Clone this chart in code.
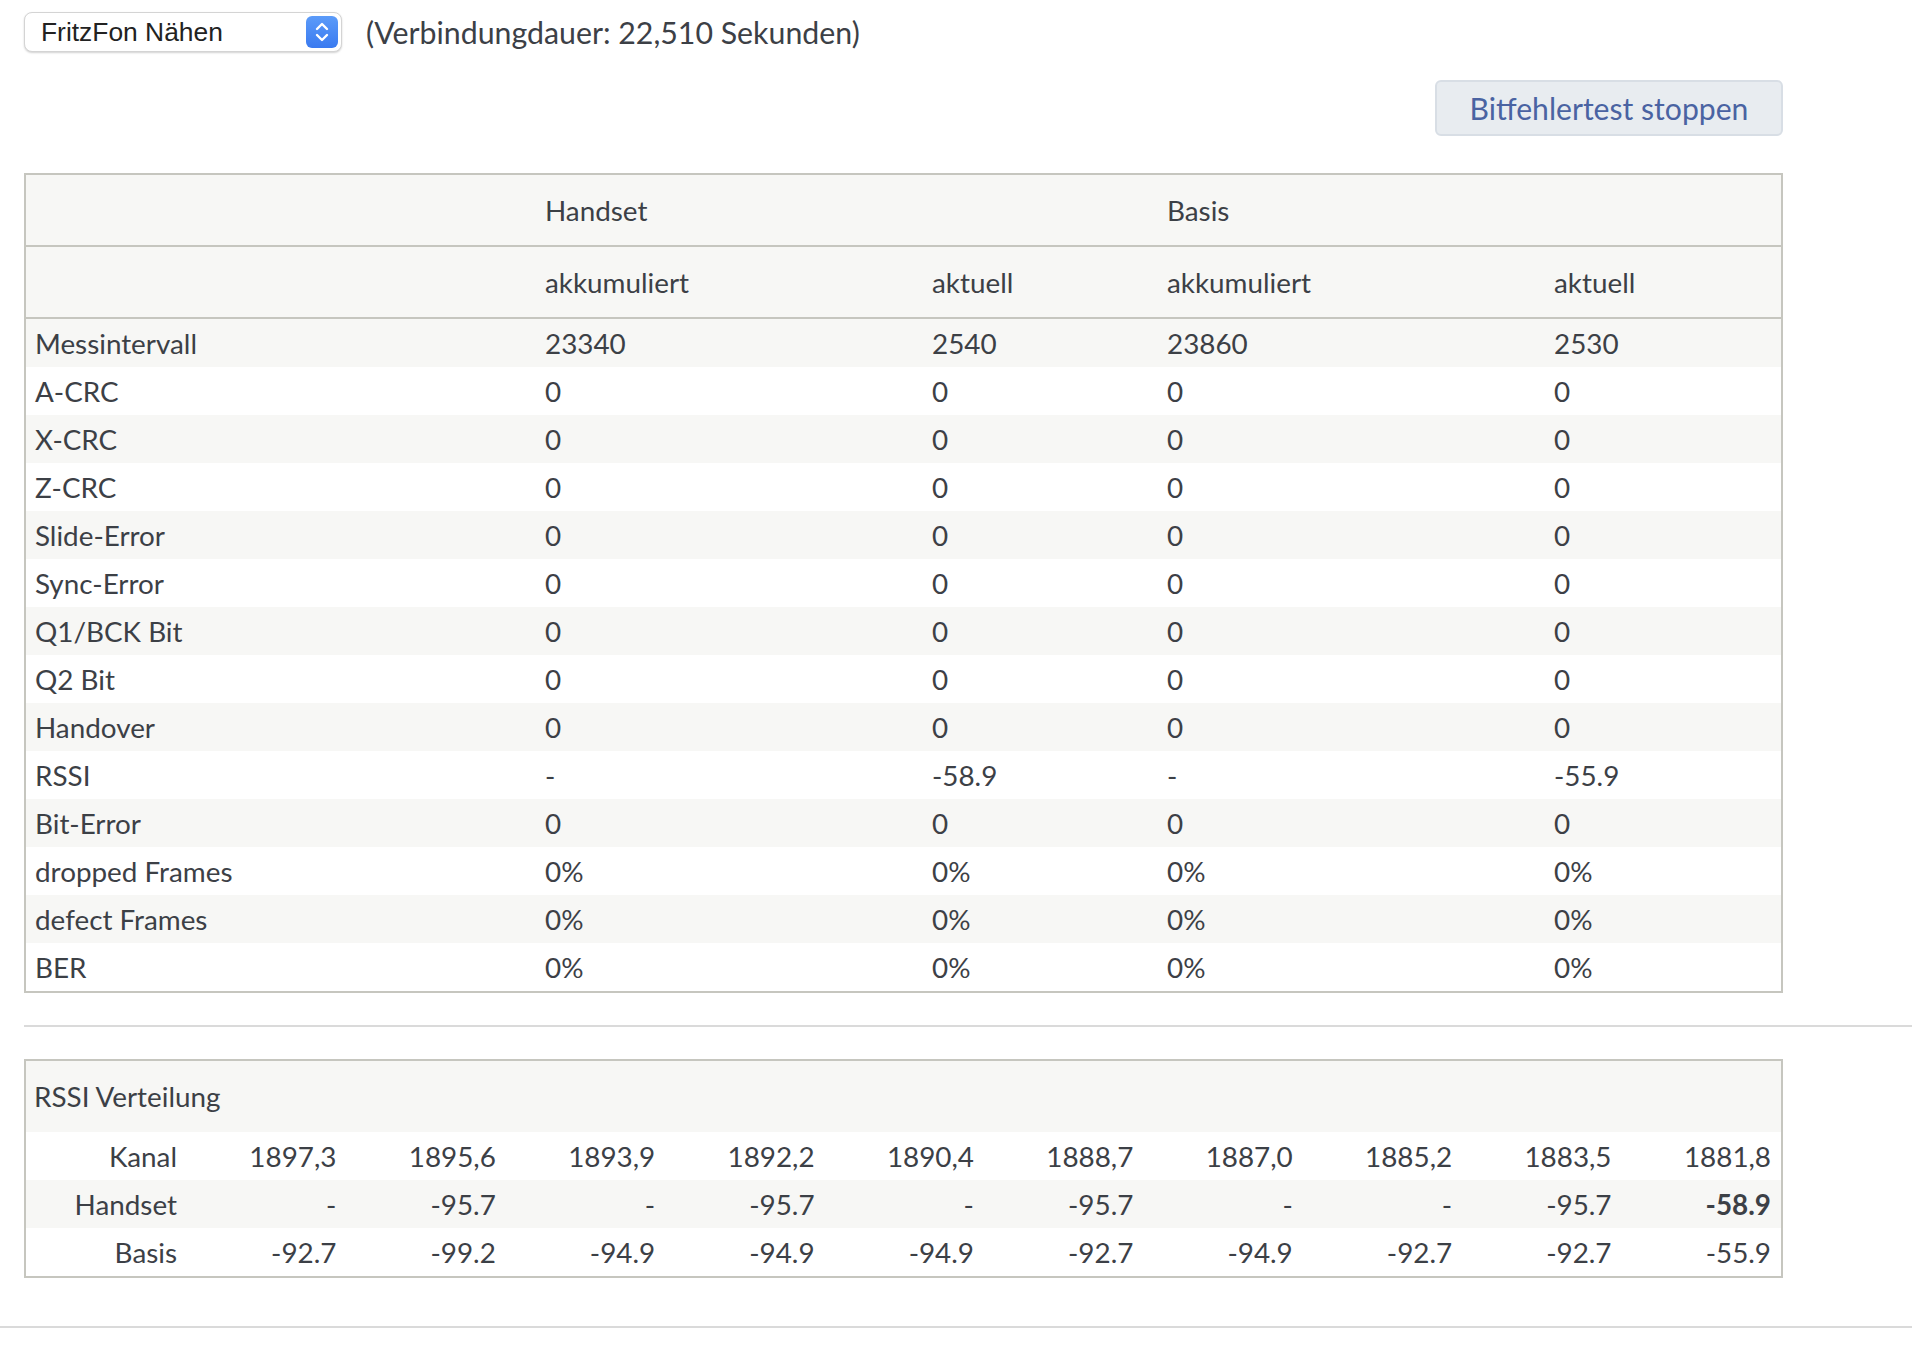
<!DOCTYPE html>
<html lang="de">
<head>
<meta charset="utf-8">
<title>Bitfehlertest</title>
<script src="https://cdn.jsdelivr.net/npm/chart.js"></script>
<style>
  html, body { margin:0; padding:0; background:#fff; }
  body { width:1912px; height:1346px; position:relative; overflow:hidden; font-family:Lato, "Noto Sans", sans-serif; color:#3c4046; }
  .abs { position:absolute; }
  #sel { left:24px; top:12px; width:318px; height:40px; box-sizing:border-box; border:1px solid #d4d4d4; border-radius:8px; background:#fff; box-shadow:0 1px 2px rgba(0,0,0,0.18); }
  #selText { position:absolute; left:16px; top:0; height:38px; line-height:38px; color:#222; font-family:"Liberation Sans", Arial, sans-serif; white-space:nowrap; }
  #selBtn { position:absolute; left:281px; top:3px; width:32px; height:32px; border-radius:6px; background:linear-gradient(#5b9bf9,#3a7af0); }
  #dur { left:366px; top:12px; height:40px; line-height:40px; white-space:nowrap; }
  #stop { left:1435px; top:80px; width:348px; height:56px; box-sizing:border-box; border:2px solid #d8dee5; border-radius:6px; background:#e8ecf0; color:#4a63a2; text-align:center; line-height:52px; white-space:nowrap; }
  table { border-collapse:separate; border-spacing:0; table-layout:fixed; border:2px solid #c6c6bf; position:absolute; left:24px; width:1759px; }
  td, th { padding:0; white-space:nowrap; overflow:hidden; font-weight:normal; vertical-align:middle; }
  #main { top:173px; }
  #main th { height:70px; border-bottom:2px solid #c6c6bf; background:#f7f7f5; text-align:left; padding-left:9px; }
  #main td { height:48px; text-align:left; padding-left:9px; }
  #main tbody tr:nth-child(odd) td { background:#f7f7f5; }
  #main tbody tr:nth-child(even) td { background:#fff; }
  #rssi { top:1059px; }
  #rssi th { height:71px; background:#f7f7f5; text-align:left; padding-left:8px; }
  #rssi td { height:48px; text-align:right; padding-right:10px; }
  #rssi tr.g td { background:#f7f7f5; }
  #rssi tr.w td { background:#fff; }
  #rssi b { font-weight:bold; }
  .hr { position:absolute; height:2px; background:#dadada; }
</style>
</head>
<body>
<script>
// ---- data ----
const rowLabels = ['Messintervall','A-CRC','X-CRC','Z-CRC','Slide-Error','Sync-Error','Q1/BCK Bit','Q2 Bit','Handover','RSSI','Bit-Error','dropped Frames','defect Frames','BER'];
const handsetAkkumuliert = ['23340','0','0','0','0','0','0','0','0','-','0','0%','0%','0%'];
const handsetAktuell     = ['2540','0','0','0','0','0','0','0','0','-58.9','0','0%','0%','0%'];
const basisAkkumuliert   = ['23860','0','0','0','0','0','0','0','0','-','0','0%','0%','0%'];
const basisAktuell       = ['2530','0','0','0','0','0','0','0','0','-55.9','0','0%','0%','0%'];
const groupHeaders = ['Handset','Basis'];
const subHeaders = ['akkumuliert','aktuell','akkumuliert','aktuell'];
const kanal = ['1897,3','1895,6','1893,9','1892,2','1890,4','1888,7','1887,0','1885,2','1883,5','1881,8'];
const rssiHandset = [null,-95.7,null,-95.7,null,-95.7,null,null,-95.7,-58.9];
const rssiBasis   = [-92.7,-99.2,-94.9,-94.9,-94.9,-92.7,-94.9,-92.7,-92.7,-55.9];
const handsetCurrentChannel = 9;
const deviceName = 'FritzFon Nähen';
const durationText = '(Verbindungdauer: 22,510 Sekunden)';
const stopLabel = 'Bitfehlertest stoppen';
</script>

<div id="sel" class="abs">
  <span id="selText"></span>
  <div id="selBtn">
    <svg width="32" height="32" viewBox="0 0 32 32">
      <polyline points="11,13 16,8 21,13" fill="none" stroke="#fff" stroke-width="2.4" stroke-linecap="round" stroke-linejoin="round"/>
      <polyline points="11,19 16,24 21,19" fill="none" stroke="#fff" stroke-width="2.4" stroke-linecap="round" stroke-linejoin="round"/>
    </svg>
  </div>
</div>
<div id="dur" class="abs"></div>
<div id="stop" class="abs"></div>

<table id="main">
  <colgroup><col style="width:510px"><col style="width:387px"><col style="width:235px"><col style="width:387px"><col style="width:236px"></colgroup>
  <thead></thead>
  <tbody></tbody>
</table>

<div class="hr" style="left:24px; top:1025px; width:1888px;"></div>

<table id="rssi">
  <colgroup id="rssiCols"></colgroup>
  <tbody></tbody>
</table>

<div class="hr" style="left:0; top:1326px; width:1912px;"></div>

<script>
function esc(s){ return String(s).replace(/&/g,'&amp;').replace(/</g,'&lt;'); }
document.getElementById('selText').textContent = deviceName;
document.getElementById('dur').textContent = durationText;
document.getElementById('stop').textContent = stopLabel;

// main table
const mainT = document.getElementById('main');
mainT.tHead.innerHTML =
  '<tr><th></th><th colspan="2">'+esc(groupHeaders[0])+'</th><th colspan="2">'+esc(groupHeaders[1])+'</th></tr>' +
  '<tr><th></th>' + subHeaders.map(h => '<th>'+esc(h)+'</th>').join('') + '</tr>';
mainT.tBodies[0].innerHTML = rowLabels.map((l,i) =>
  '<tr><td>'+esc(l)+'</td><td>'+esc(handsetAkkumuliert[i])+'</td><td>'+esc(handsetAktuell[i])+'</td><td>'+esc(basisAkkumuliert[i])+'</td><td>'+esc(basisAktuell[i])+'</td></tr>'
).join('');

// rssi table
const fmt = v => v === null ? '-' : v.toFixed(1);
document.getElementById('rssiCols').innerHTML = '<col style="width:161px">' + kanal.map(() => '<col style="width:159.4px">').join('');
const rssiT = document.getElementById('rssi');
rssiT.tBodies[0].innerHTML =
  '<tr><th colspan="'+(kanal.length+1)+'">RSSI Verteilung</th></tr>' +
  '<tr class="w"><td>Kanal</td>' + kanal.map(k => '<td>'+esc(k)+'</td>').join('') + '</tr>' +
  '<tr class="g"><td>Handset</td>' + rssiHandset.map((v,i) => '<td>'+(i===handsetCurrentChannel ? '<b>'+fmt(v)+'</b>' : fmt(v))+'</td>').join('') + '</tr>' +
  '<tr class="w"><td>Basis</td>' + rssiBasis.map(v => '<td>'+fmt(v)+'</td>').join('') + '</tr>';

// fit font sizes to match reference text widths
const cv = document.createElement('canvas').getContext('2d');
function sizeFor(text, family, target){
  cv.font = '100px ' + family;
  return 100 * target / cv.measureText(text).width;
}
function apply(){
  const tSize = sizeFor('Messintervall', 'Lato', 162);
  document.querySelectorAll('table').forEach(t => t.style.fontSize = tSize + 'px');
  document.getElementById('dur').style.fontSize = sizeFor(durationText, 'Lato', 494) + 'px';
  document.getElementById('stop').style.fontSize = sizeFor(stopLabel, 'Lato', 279) + 'px';
  document.getElementById('selText').style.fontSize = sizeFor(deviceName, '"Liberation Sans"', 182) + 'px';
}
apply();
if (document.fonts && document.fonts.ready) document.fonts.ready.then(apply);
</script>
</body>
</html>
